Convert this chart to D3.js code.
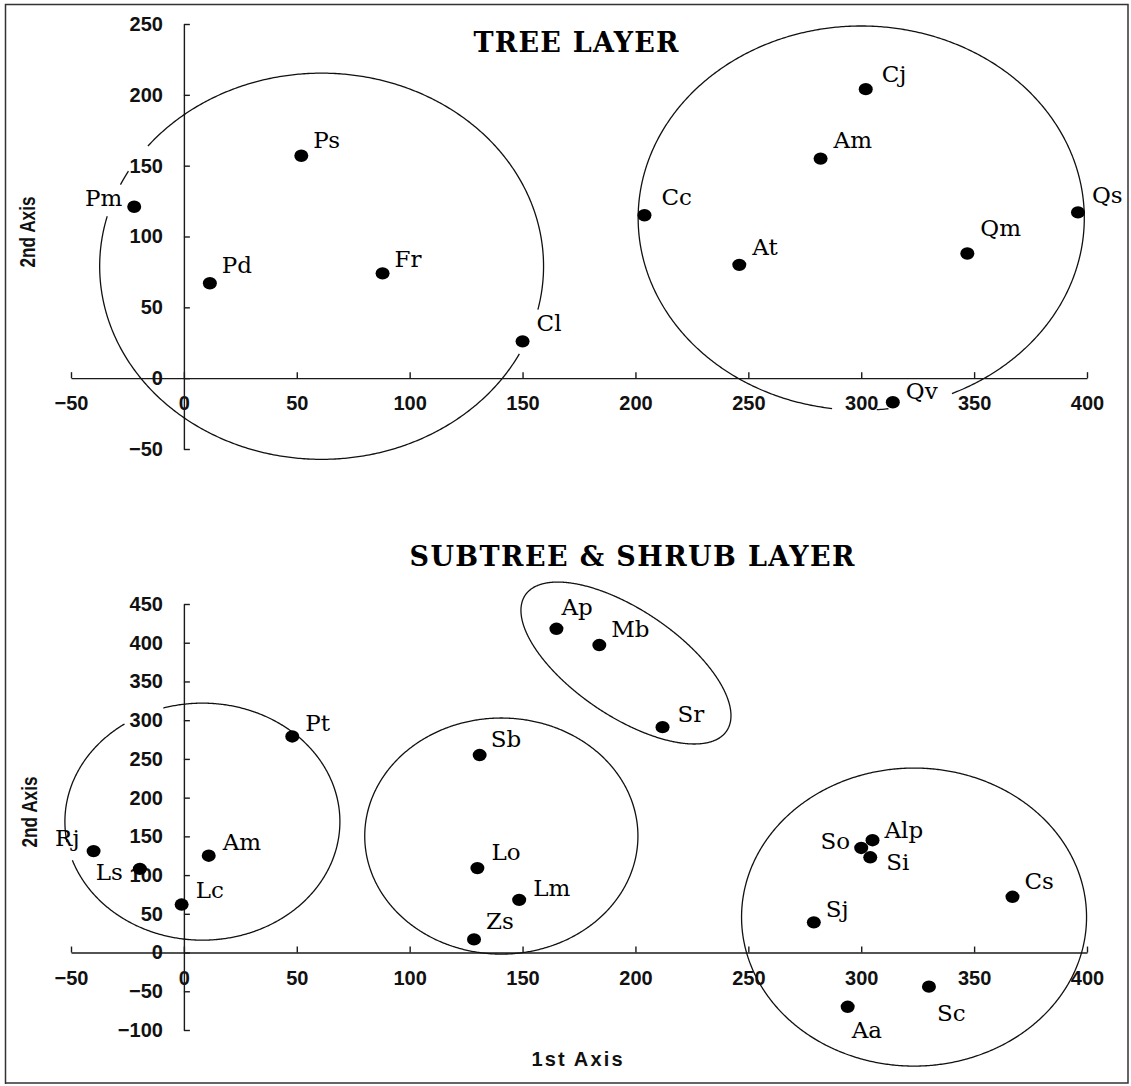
<!DOCTYPE html>
<html><head><meta charset="utf-8">
<script src="https://cdn.jsdelivr.net/npm/d3@7"></script>
<style>body{margin:0;background:#fff}</style>
</head><body>
<svg id="chart" width="1131" height="1086"></svg>
<script>
// ---------------- data ----------------
const treeSpecies = ["Pm","Ps","Pd","Fr","Cl","Cc","At","Am","Cj","Qs","Qm","Qv"];
const treeAxis1   = [-22, 52, 11.5, 88, 150, 204, 246, 282, 302, 396, 347, 314];
const treeAxis2   = [121, 157, 67, 74, 26, 115, 80, 155, 204, 117, 88, -17];

const shrubSpecies = ["Ap","Mb","Sr","Pt","Sb","Rj","Ls","Am","Lc","Lo","Lm","Zs","Alp","So","Si","Cs","Sj","Aa","Sc"];
const shrubAxis1   = [165, 184, 212, 48, 131, -40, -19.5, 11, -1, 130, 148.5, 128.5, 305, 300, 304, 367, 279, 294, 330];
const shrubAxis2   = [418, 397, 291, 279, 255, 131, 108, 125, 62, 109, 68, 17, 145, 135, 123, 72, 39, -70, -44];

const xTicks      = [-50, 0, 50, 100, 150, 200, 250, 300, 350, 400];
const treeYTicks  = [-50, 0, 50, 100, 150, 200, 250];
const shrubYTicks = [-100, -50, 0, 50, 100, 150, 200, 250, 300, 350, 400, 450];

// group outlines (in axis units): centre, and two semi-axis vectors
const treeGroups = [
  {cx: 61,  cy: 79,  u: [98.3, 0], v: [0, 136.3]},
  {cx: 300, cy: 113, u: [98.8, 0], v: [0, 135.6]}
];
const shrubGroups = [
  {cx: 8.2,   cy: 169,   u: [60.9, 0],   v: [0, 153]},
  {cx: 140.6, cy: 150.4, u: [60.5, 0],   v: [0, 152.4]},
  {cx: 195.8, cy: 373.8, u: [44.6, -87.7], v: [-13.2, -56.9]},
  {cx: 323.4, cy: 45.8,  u: [76.4, 0],   v: [0, 192.4]}
];

// ---------------- drawing config (not data) ----------------
const treeGaps  = [[[141.9,150.4],[155,164.7],[-26.6,-13.2]], [[-97.2,-86.4],[-83,-66.4]]];
const shrubGaps = [[[106.7,124.3],[-170,-161]], [], [], []];
const treeLabelPos = {Pm:[-12,-1,"end"],Ps:[12,-8],Pd:[12,-10],Fr:[12,-6],Cl:[14,-10],Cc:[17,-10],At:[13,-10],Am:[13,-11],Cj:[16,-7],Qs:[14,-9],Qm:[13,-18],Qv:[13,-3]};
const shrubLabelPos = {Ap:[5,-14],Mb:[12,-8],Sr:[15,-5],Pt:[13,-5],Sb:[11,-8],Rj:[-14,-5,"end"],Ls:[-17,11,"end"],Am:[14,-6],Lc:[14,-7],Lo:[14,-8],Lm:[14,-4],Zs:[12,-10],Alp:[12,-2],So:[-11,1,"end"],Si:[16,13],Cs:[12,-8],Sj:[12,-5],Aa:[4,31],Sc:[8,34]};

const svg = d3.select("#chart");
svg.append("rect").attr("x",0).attr("y",0).attr("width",1131).attr("height",1086).attr("fill","#fff");
svg.append("path").attr("d","M5.5,1084 V4.5 H1128 V1083 H5.5").attr("fill","none").attr("stroke","#333").attr("stroke-width",1.5);

const x = d3.scaleLinear().domain([-50, 400]).range([71, 1087]);
const yTree = d3.scaleLinear().domain([-50, 250]).range([449, 24]);
const yShrub = d3.scaleLinear().domain([-100, 450]).range([1030, 604]);

const serif = "'DejaVu Serif', 'Liberation Serif', serif";
const sans = "'Liberation Sans', Arial, sans-serif";

function panel(y, yTicks, names, a1, a2, groups, gaps, labelPos, title, titleX, titleY, titleLen, yTitle) {
  const g = svg.append("g");
  const xa = g.append("g").attr("transform", `translate(0,${y(0)})`)
    .call(d3.axisBottom(x).tickValues(xTicks).tickSizeInner(-6).tickSizeOuter(0).tickPadding(18).tickFormat(d3.format("d")));
  const ya = g.append("g").attr("transform", `translate(${x(0)},0)`)
    .call(d3.axisLeft(y).tickValues(yTicks).tickSizeInner(-6).tickSizeOuter(0).tickPadding(21).tickFormat(d3.format("d")));
  [xa, ya].forEach(a => {
    a.selectAll("path,line").attr("stroke","#1a1a1a").attr("stroke-width",1.4);
    a.selectAll("text").attr("font-family", sans).attr("font-weight","bold").attr("font-size",20).attr("fill","#111");
  });
  groups.forEach((G, i) => {
    const gp = gaps[i] || [];
    const segs = [];
    let cur = [];
    for (let t = -180; t <= 180; t += 0.5) {
      const inGap = gp.some(r => t > r[0] && t < r[1]);
      if (inGap) { if (cur.length) segs.push(cur); cur = []; continue; }
      const r = t * Math.PI / 180;
      cur.push([G.cx + G.u[0]*Math.cos(r) + G.v[0]*Math.sin(r), G.cy + G.u[1]*Math.cos(r) + G.v[1]*Math.sin(r)]);
    }
    if (cur.length) segs.push(cur);
    if (segs.length > 1) { const last = segs.pop(); segs[0] = last.concat(segs[0]); }
    const line = d3.line().x(d => x(d[0])).y(d => y(d[1]));
    segs.forEach(s => g.append("path").attr("d", line(s)).attr("fill","none").attr("stroke","#111").attr("stroke-width",1.3));
  });
  names.forEach((n, i) => {
    const px = x(a1[i]), py = y(a2[i]);
    g.append("ellipse").attr("cx", px).attr("cy", py).attr("rx", 7).attr("ry", 6.2).attr("fill", "#000");
    const p = labelPos[n] || [12, -8];
    g.append("text").attr("x", px + p[0]).attr("y", py + p[1]).attr("text-anchor", p[2] || "start")
      .attr("font-family", serif).attr("font-size", 23).attr("fill", "#000").text(n);
  });
  g.append("text").attr("x", titleX).attr("y", titleY).attr("text-anchor","middle")
    .attr("font-family", serif).attr("font-weight","bold").attr("font-size",27)
    .attr("textLength", titleLen).attr("lengthAdjust","spacing").attr("fill","#000").text(title);
  g.append("text").attr("transform", `translate(${yTitle[0]},${yTitle[1]}) rotate(-90)`).attr("text-anchor","middle")
    .attr("font-family", sans).attr("font-weight","bold").attr("font-size",22)
    .attr("textLength", 71).attr("lengthAdjust","spacingAndGlyphs").attr("fill","#111").text("2nd Axis");
  return g;
}

panel(yTree, treeYTicks, treeSpecies, treeAxis1, treeAxis2, treeGroups, treeGaps, treeLabelPos, "TREE LAYER", 576, 52, 205, [35, 232]);
panel(yShrub, shrubYTicks, shrubSpecies, shrubAxis1, shrubAxis2, shrubGroups, shrubGaps, shrubLabelPos, "SUBTREE & SHRUB LAYER", 632, 566, 445, [37, 812]);

svg.append("text").attr("x", 577).attr("y", 1066).attr("text-anchor","middle")
  .attr("font-family", sans).attr("font-weight","bold").attr("font-size",20)
  .attr("textLength", 91).attr("lengthAdjust","spacing").attr("fill","#111").text("1st Axis");
</script>
</body></html>
